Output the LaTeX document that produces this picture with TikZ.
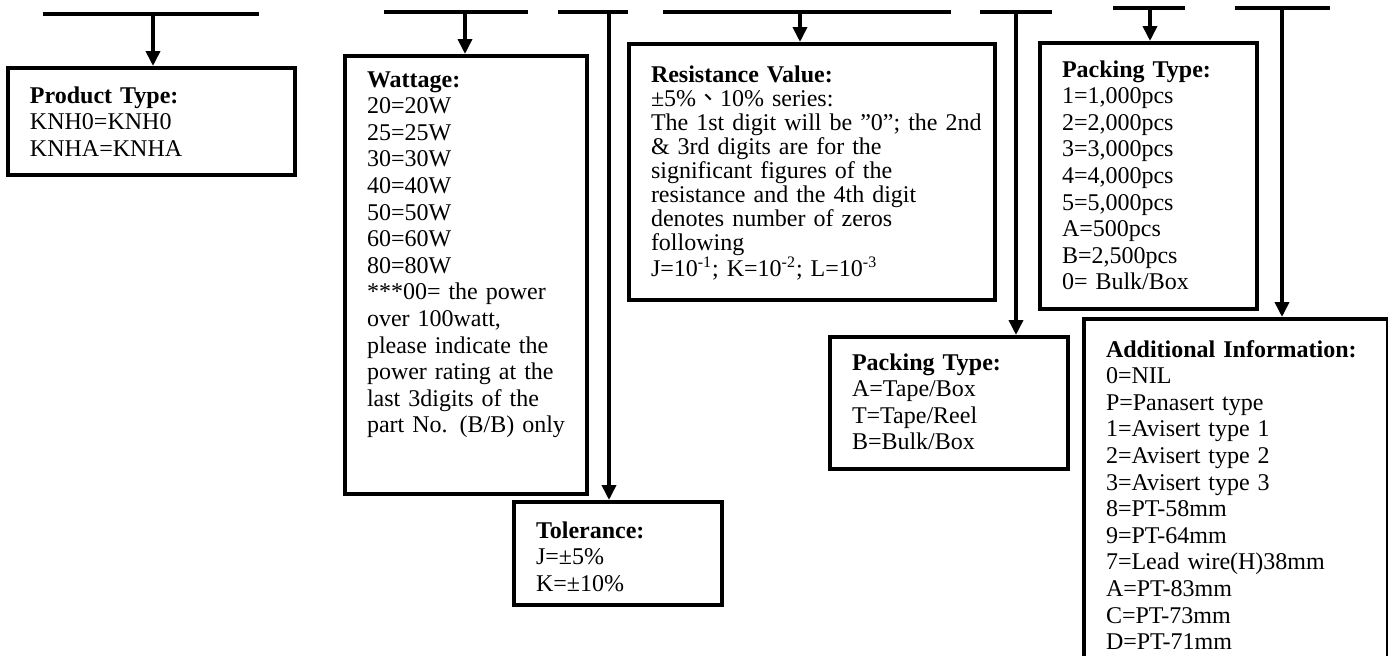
\documentclass[tikz,border=0pt]{standalone}
\usepackage{fontspec}
\setmainfont{Liberation Serif}
\newfontfamily\cjkfont{Noto Sans CJK TC}
\usepackage{tikz}
\usetikzlibrary{arrows.meta}

\begin{document}
\begin{tikzpicture}[x=0.5pt, y=-0.5pt]
    % Styles
    \tikzstyle{field} = [rectangle, draw=black, line width=2pt, anchor=north west, align=left, inner xsep=11pt, inner ysep=0pt, font=\fontsize{12}{13.3}\selectfont]
    \tikzstyle{bar} = [line width=2pt]
    \tikzstyle{feed} = [line width=1.8pt, -{Triangle[length=7.5pt, width=7pt]}]

    \useasboundingbox (0,0) rectangle (1388,655);
    \clip (0,0) rectangle (1388,655);

    % Fields
    \node (prodtype) [field, text width=121.5pt, text height=17.5pt, text depth=36pt] at (6,66)
        {\textbf{Product Type:}\\KNH0=KNH0\\KNHA=KNHA};
    \node (wattage) [field, text width=99pt, text height=15.5pt, text depth=203.5pt] at (343,54)
        {\textbf{Wattage:}\\20=20W\\25=25W\\30=30W\\40=40W\\50=50W\\60=60W\\80=80W\\{}***00= the power\\over 100watt,\\please indicate the\\power rating at the\\last 3digits of the\\\mbox{part No. (B/B) only}};
    \node (tolerance) [field, text width=82pt, text height=18pt, text depth=33.5pt] at (512,500)
        {\textbf{Tolerance:}\\J=±5\%\\K=±10\%};
    \node (resvalue) [field, font=\fontsize{12}{12}\selectfont, text width=161pt, text height=19pt, text depth=109pt] at (627,42)
        {\textbf{Resistance Value:}\\±5\%{\cjkfont 、}10\% series:\\\mbox{The 1st digit will be ”0”; the 2nd}\\\& 3rd digits are for the\\significant figures of the\\resistance and the 4th digit\\denotes number of zeros\\following\\J=10\textsuperscript{-1}; K=10\textsuperscript{-2}; L=10\textsuperscript{-3}};
    \node (packmode) [field, text width=97pt, text height=16.5pt, text depth=49.5pt] at (828,335)
        {\textbf{Packing Type:}\\A=Tape/Box\\T=Tape/Reel\\B=Bulk/Box};
    \node (packqty) [field, text width=86.5pt, text height=17pt, text depth=116pt] at (1038,41)
        {\textbf{Packing Type:}\\1=1,000pcs\\2=2,000pcs\\3=3,000pcs\\4=4,000pcs\\5=5,000pcs\\A=500pcs\\B=2,500pcs\\0= Bulk/Box};
    \node (addinfo) [field, text width=130pt, text height=19pt, text depth=165pt] at (1082,317)
        {\textbf{Additional Information:}\\0=NIL\\P=Panasert type\\1=Avisert type 1\\2=Avisert type 2\\3=Avisert type 3\\8=PT-58mm\\9=PT-64mm\\7=Lead wire(H)38mm\\A=PT-83mm\\C=PT-73mm\\D=PT-71mm};

    % Code bars
    \coordinate (b1l) at (43,14);    \coordinate (b1r) at (259,14);   \coordinate (b1s) at (153,14);
    \coordinate (b2l) at (384,12);   \coordinate (b2r) at (528,12);   \coordinate (b2s) at (465,12);
    \coordinate (b3l) at (558,12);   \coordinate (b3r) at (628,12);   \coordinate (b3s) at (609,12);
    \coordinate (b4l) at (663,12);   \coordinate (b4r) at (951,12);   \coordinate (b4s) at (800,12);
    \coordinate (b5l) at (980,12);   \coordinate (b5r) at (1052,12);  \coordinate (b5s) at (1016,12);
    \coordinate (b6l) at (1113,8);   \coordinate (b6r) at (1185,8);   \coordinate (b6s) at (1150,8);
    \coordinate (b7l) at (1235,8);   \coordinate (b7r) at (1330,8);   \coordinate (b7s) at (1282,8);

    \foreach \i in {1,...,7}
        \draw[bar] (b\i l) -- (b\i r);

    % Connections
    \draw[feed] (b1s) -- (b1s |- prodtype.north);
    \draw[feed] (b2s) -- (b2s |- wattage.north);
    \draw[feed] (b3s) -- (b3s |- tolerance.north);
    \draw[feed] (b4s) -- (b4s |- resvalue.north);
    \draw[feed] (b5s) -- (b5s |- packmode.north);
    \draw[feed] (b6s) -- (b6s |- packqty.north);
    \draw[feed] (b7s) -- (b7s |- addinfo.north);
\end{tikzpicture}
\end{document}
